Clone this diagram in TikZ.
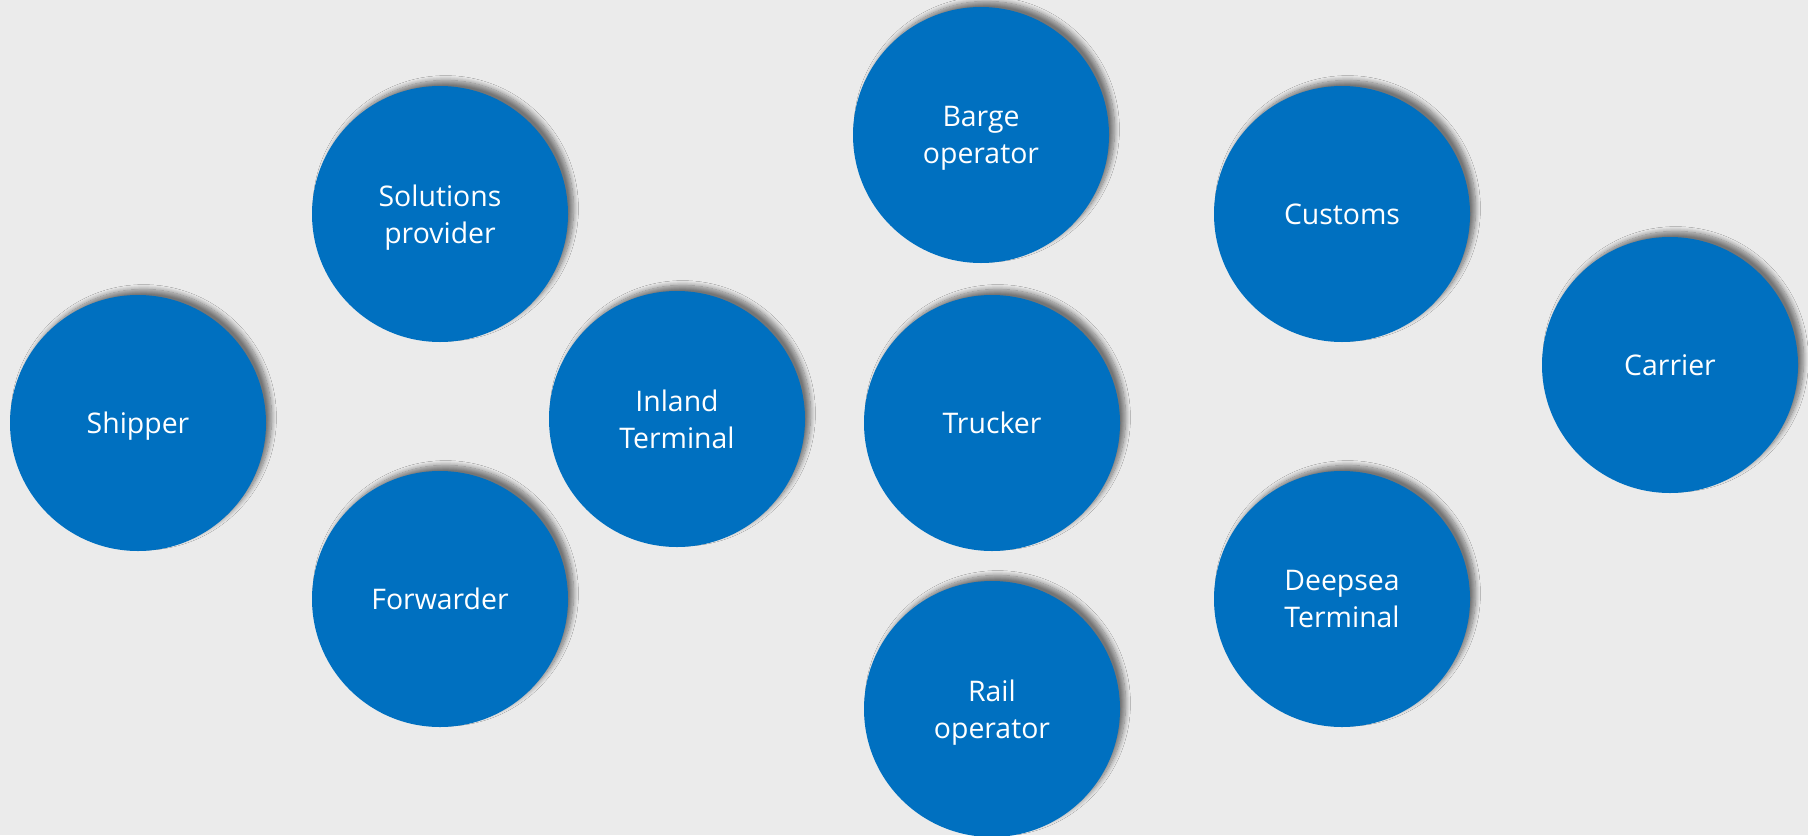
\documentclass[tikz,border=0pt]{standalone}
\usepackage{fontspec}
\setmainfont{Open Sans}
\usetikzlibrary{shadows.blur}
\definecolor{bg}{HTML}{EBEBEB}
\definecolor{disc}{HTML}{0070C0}
\begin{document}
\begin{tikzpicture}[x=0.5pt,y=-0.5pt,
  actor/.style={circle,fill=disc,minimum size=128pt,inner sep=0pt,
    text=white,align=center,font=\fontsize{14.2}{18.5}\selectfont,
    text depth=0pt,
    blur shadow={shadow xshift=2.8pt,shadow yshift=2.8pt,shadow blur radius=2.4pt,shadow blur steps=10,shadow opacity=50}}]
\fill[bg] (0,0) rectangle (1808,835);
\useasboundingbox (0,0) rectangle (1808,835);
\node[actor] (shipper) at (138,423) {Shipper};
\node[actor] (solutions) at (440,214) {Solutions\\provider};
\node[actor] (forwarder) at (440,599) {Forwarder};
\node[actor] (inland) at (677,419) {Inland\\Terminal};
\node[actor] (barge) at (981,135) {Barge\\operator};
\node[actor] (trucker) at (992,423) {Trucker};
\node[actor] (rail) at (992,709) {Rail\\operator};
\node[actor] (customs) at (1342,214) {Customs};
\node[actor] (deepsea) at (1342,599) {Deepsea\\Terminal};
\node[actor] (carrier) at (1670,365) {Carrier};
\end{tikzpicture}
\end{document}
